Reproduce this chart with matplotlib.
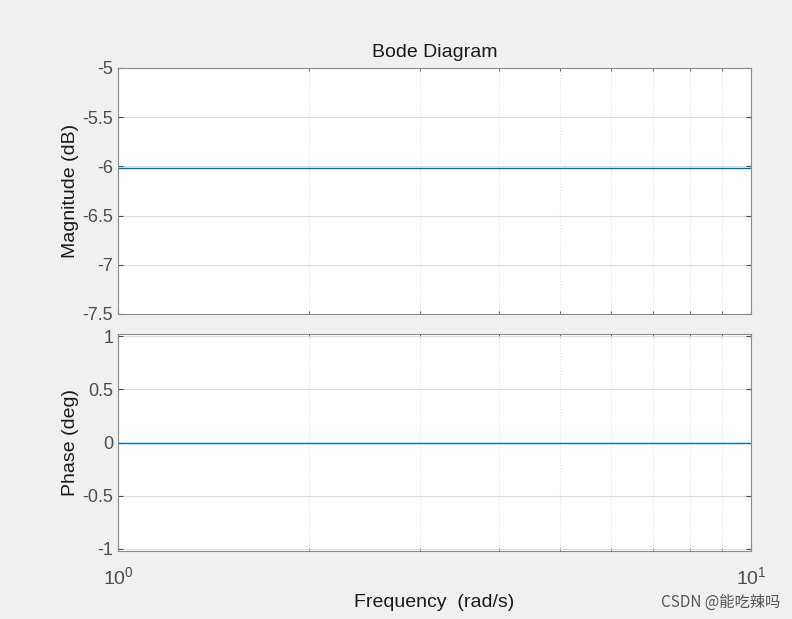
import numpy as np
import matplotlib.pyplot as plt
from matplotlib.ticker import LogLocator, NullFormatter

plt.rcParams['font.family'] = ['Arial', 'Liberation Sans', 'DejaVu Sans']

# frequency response of a constant gain 0.5
freq = [1, 2, 5, 10]
mag_db = [-6.0206, -6.0206, -6.0206, -6.0206]
phase_deg = [0, 0, 0, 0]

bg = "#f0f0f0"
fig = plt.figure(figsize=(7.92, 6.19), dpi=100, facecolor=bg)
ax1 = fig.add_axes([118/792, 1-314/619, 633/792, 246/619])
ax2 = fig.add_axes([118/792, 1-551/619, 633/792, 217/619])

for ax in (ax1, ax2):
    ax.set_xscale("log")
    ax.set_xlim(1, 10)
    ax.xaxis.set_minor_locator(LogLocator(subs=np.arange(2, 10)))
    ax.xaxis.set_minor_formatter(NullFormatter())
    ax.grid(True, which="major", color="#dcdcdc", linewidth=0.8)
    ax.grid(True, which="minor", axis="x", color="#e4e4e4", linestyle=":", linewidth=0.8)
    ax.tick_params(which="both", direction="in", colors="#4d4d4d", labelsize=13,
                   top=True, right=True)
    ax.tick_params(which="minor", length=2)
    for s in ax.spines.values():
        s.set_color("#8c8c8c")
        s.set_linewidth(0.8)

ax1.plot(freq, mag_db, color="#0072bd", linewidth=1)
ax1.set_ylim(-7.5, -5)
ax1.set_yticks([-7.5, -7, -6.5, -6, -5.5, -5])
ax1.set_yticklabels(["-7.5", "-7", "-6.5", "-6", "-5.5", "-5"])
ax1.tick_params(labelbottom=False)
ax1.set_ylabel("Magnitude (dB)", fontsize=14, color="#1a1a1a", labelpad=2)
ax1.set_title("Bode Diagram", fontsize=14, color="#1a1a1a", pad=8)

ax2.plot(freq, phase_deg, color="#0072bd", linewidth=1)
ax2.set_ylim(-1.02, 1.02)
ax2.set_yticks([-1, -0.5, 0, 0.5, 1])
ax2.set_yticklabels(["-1", "-0.5", "0", "0.5", "1"])
ax2.tick_params(axis="x", which="major", labelsize=14, pad=11)
ax2.set_ylabel("Phase (deg)", fontsize=14, color="#1a1a1a", labelpad=2)
ax2.set_xlabel("Frequency  (rad/s)", fontsize=14, color="#1a1a1a", labelpad=4)

fig.text(0.985, 0.013, "CSDN @能吃辣吗", ha="right", va="bottom", fontsize=11,
         color="#555555", family=['Noto Sans CJK SC', 'DejaVu Sans'])

fig.savefig("out.png", dpi=100, facecolor=bg)
